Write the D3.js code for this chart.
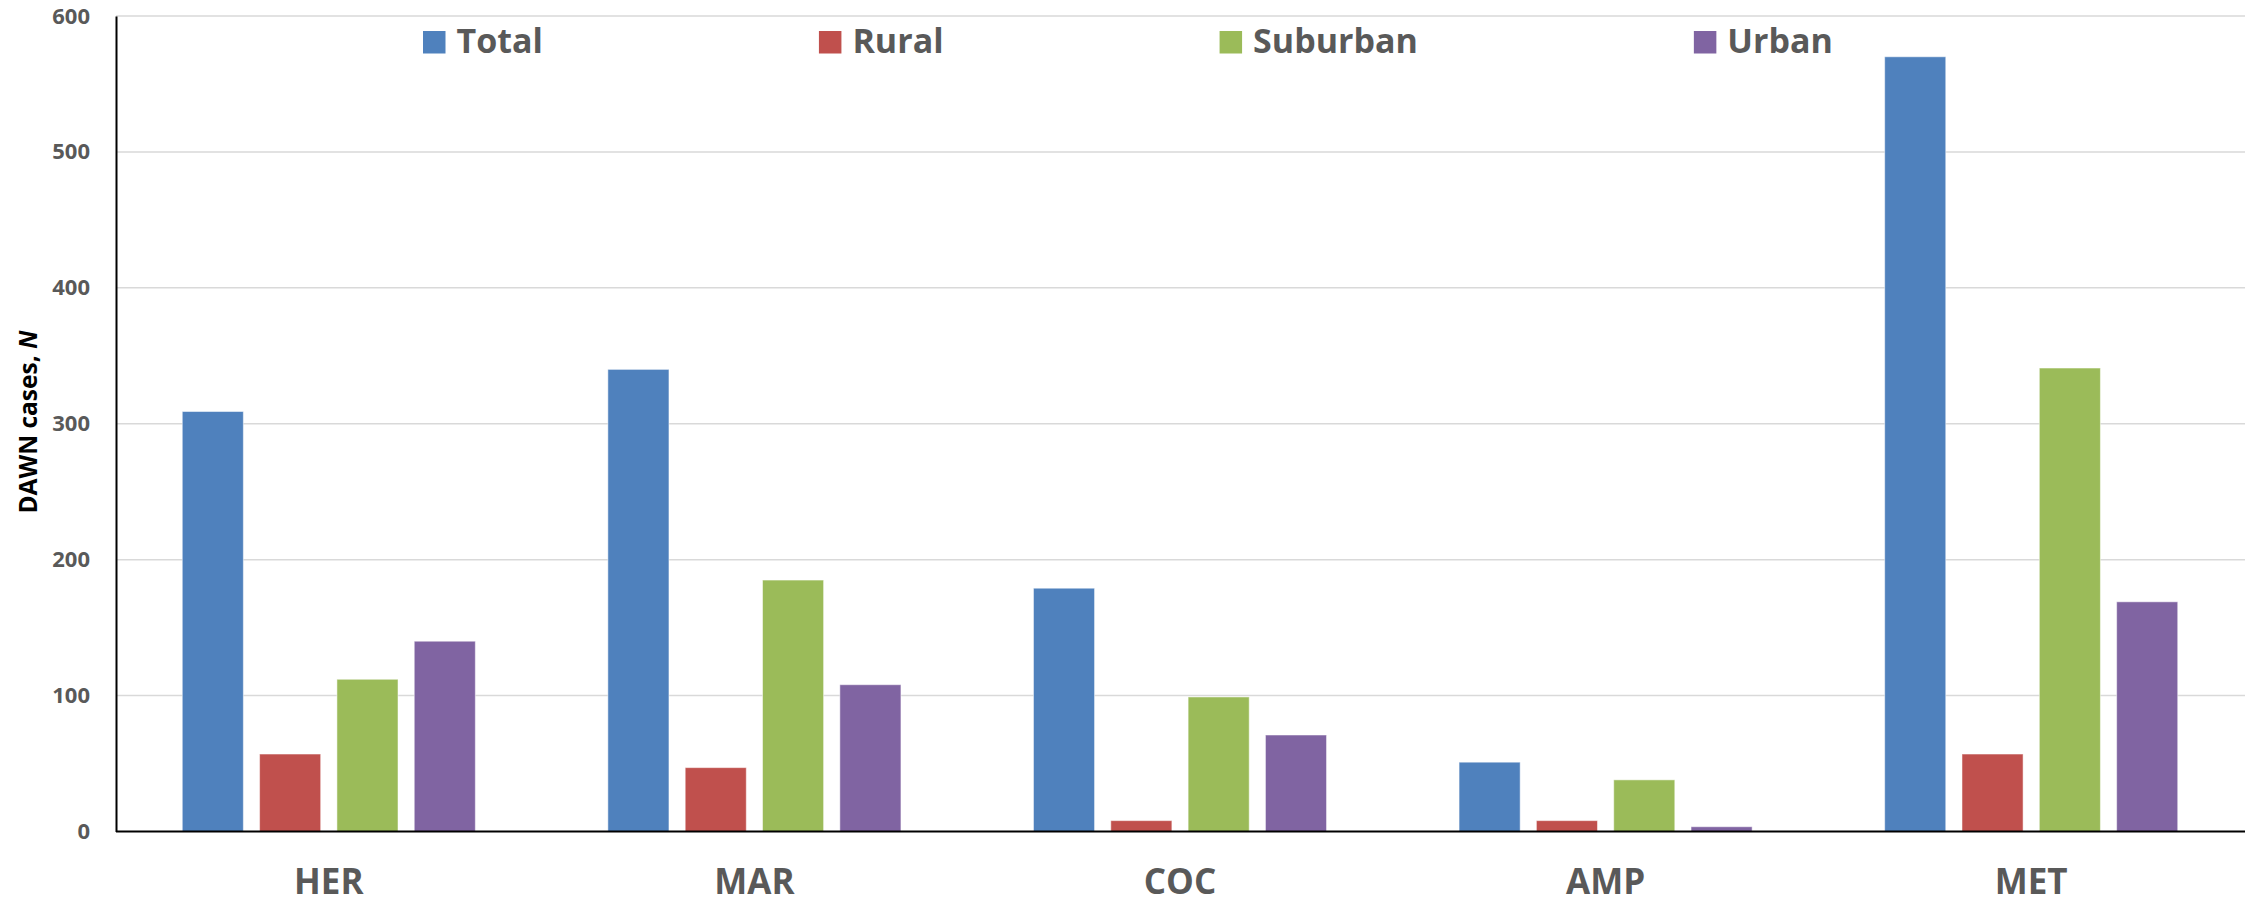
<!DOCTYPE html>
<html>
<head>
<meta charset="utf-8">
<script src="https://cdn.jsdelivr.net/npm/d3@7"></script>
<style>
  body { margin: 0; background: #fff; }
  text { font-family: "Open Sans", sans-serif; }
</style>
</head>
<body>
<svg width="2245" height="904"></svg>
<script>
// drug categories and DAWN case counts per setting
var categories = ['HER', 'MAR', 'COC', 'AMP', 'MET'];
var seriesNames = ['Total', 'Rural', 'Suburban', 'Urban'];
var totalVals    = [309, 340, 179, 51, 570];
var ruralVals    = [57, 47, 8, 8, 57];
var suburbanVals = [112, 185, 99, 38, 341];
var urbanVals    = [140, 108, 71, 3.5, 169];
var yTicks = [0, 100, 200, 300, 400, 500, 600];
var colors = ['#4F81BD', '#C0504D', '#9BBB59', '#8064A2'];

var svg = d3.select('svg');
var plotLeft = 116, plotRight = 2244, plotTop = 16, plotBottom = 831.5;

var rows = categories.map(function(c, i) {
    return {cat: c, vals: [totalVals[i], ruralVals[i], suburbanVals[i], urbanVals[i]]};
});

var x0 = d3.scaleBand().domain(categories).range([plotLeft, plotRight]);
var x1 = d3.scaleBand().domain(seriesNames).range([0, x0.bandwidth()])
    .paddingInner(0.21).paddingOuter(0.857);
var y = d3.scaleLinear().domain([0, 600]).range([plotBottom, plotTop]);
var color = d3.scaleOrdinal().domain(seriesNames).range(colors);

// gridlines
svg.append('g').selectAll('line')
    .data(yTicks.filter(function(t){ return t > 0; }))
    .enter().append('line')
    .attr('x1', plotLeft).attr('x2', 2245)
    .attr('y1', function(d){ return y(d); })
    .attr('y2', function(d){ return y(d); })
    .attr('stroke', '#d9d9d9').attr('stroke-width', 1.5);

// bars
svg.append('g').selectAll('g')
    .data(rows)
    .enter().append('g')
    .attr('transform', function(d){ return 'translate(' + x0(d.cat) + ',0)'; })
    .selectAll('rect')
    .data(function(d){ return d.vals.map(function(v, j){ return {name: seriesNames[j], v: v}; }); })
    .enter().append('rect')
    .attr('x', function(d){ return x1(d.name); })
    .attr('width', x1.bandwidth())
    .attr('y', function(d){ return y(d.v); })
    .attr('height', function(d){ return y(0) - y(d.v); })
    .attr('fill', function(d){ return color(d.name); })
    .attr('stroke', 'rgba(255,255,255,0.5)').attr('stroke-width', 1);

// y axis
var yAxis = svg.append('g')
    .attr('transform', 'translate(' + plotLeft + ',0)')
    .call(d3.axisLeft(y).tickValues(yTicks).tickSize(0).tickPadding(26));
yAxis.select('.domain').attr('stroke', '#000').attr('stroke-width', 2);
yAxis.selectAll('text')
    .attr('font-family', '"Open Sans", sans-serif')
    .attr('font-size', 22).attr('font-weight', 'bold').attr('fill', '#595959');

// x axis
var xAxis = svg.append('g')
    .attr('transform', 'translate(0,' + plotBottom + ')')
    .call(d3.axisBottom(x0).tickSize(0).tickPadding(38));
xAxis.select('.domain').attr('stroke', '#000').attr('stroke-width', 2)
    .attr('d', 'M' + plotLeft + ',0H2245');
xAxis.selectAll('text')
    .attr('font-family', '"Open Sans", sans-serif')
    .attr('font-size', 35).attr('font-weight', 'bold').attr('fill', '#595959');

// y title
var yt = svg.append('text')
    .attr('transform', 'translate(37,422) rotate(-90)')
    .attr('text-anchor', 'middle')
    .attr('font-size', 24.5).attr('font-weight', 'bold').attr('fill', '#000');
yt.append('tspan').text('DAWN cases, ');
yt.append('tspan').attr('font-style', 'italic').text('N');

// legend
var legend = svg.append('g').attr('transform', 'translate(423,0)');
var items = legend.selectAll('g').data(seriesNames).enter().append('g');
items.append('rect')
    .attr('width', 22.5).attr('height', 22.5).attr('y', 31)
    .attr('fill', function(d){ return color(d); });
items.append('text')
    .attr('x', 33.5).attr('y', 52.5)
    .attr('font-size', 34).attr('font-weight', 'bold').attr('fill', '#595959')
    .text(function(d){ return d; });
var pos = 0;
items.each(function() {
    var w = 33.5 + d3.select(this).select('text').node().getComputedTextLength();
    d3.select(this).attr('transform', 'translate(' + pos + ',0)');
    pos += w + 276;
});
</script>
</body>
</html>
